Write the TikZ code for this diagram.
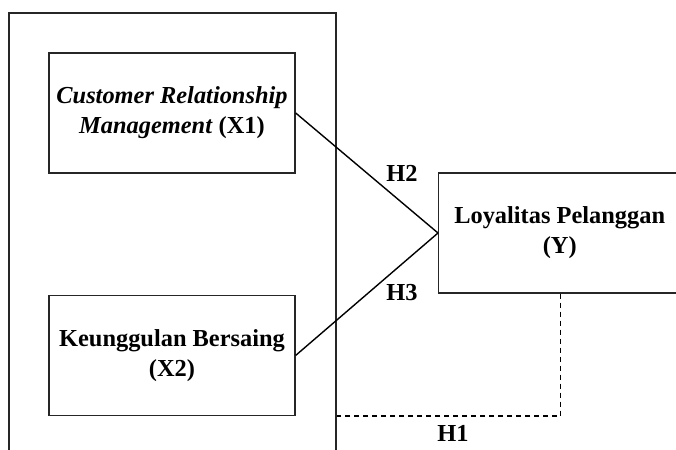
\documentclass[tikz,border=0pt]{standalone}
\usepackage{fontspec}
\setmainfont{Liberation Serif}
\usetikzlibrary{positioning}
\tikzset{var/.style={draw=black!85, minimum width=123pt, minimum height=60pt, align=center}}

\begin{document}
\begin{tikzpicture}[x=0.5pt, y=-0.5pt, line width=0.7pt, font=\bfseries\fontsize{12.2}{15}\selectfont]
    \clip[use as bounding box] (0,0) rectangle (676,450);
    \node (frame) [draw=black!85, minimum width=163.5pt, minimum height=228.5pt] at (172.5,241.5) {};
    \node (X1) [var] at (172,113) {\textit{Customer Relationship}\\\textit{Management} (X1)};
    \node (X2) [var, below=60.5pt of X1] {Keunggulan Bersaing\\(X2)};
    \node (Y) [var, minimum width=126pt, anchor=west] at (438,233) {\hspace*{-5pt}Loyalitas Pelanggan\\\hspace*{-5pt}(Y)};
    \node (H2) at (402,173) {H2};
    \node (H3) at (402,293) {H3};
    \node (H1) at (453,433) {H1};
    \draw (X1.east) -- (Y.west);
    \draw (X2.east) -- (Y.west);
    \draw[dash pattern=on 2.5pt off 2pt] (Y.south) ++(-2pt,0) |- (X2.south -| frame.east);
\end{tikzpicture}
\end{document}
